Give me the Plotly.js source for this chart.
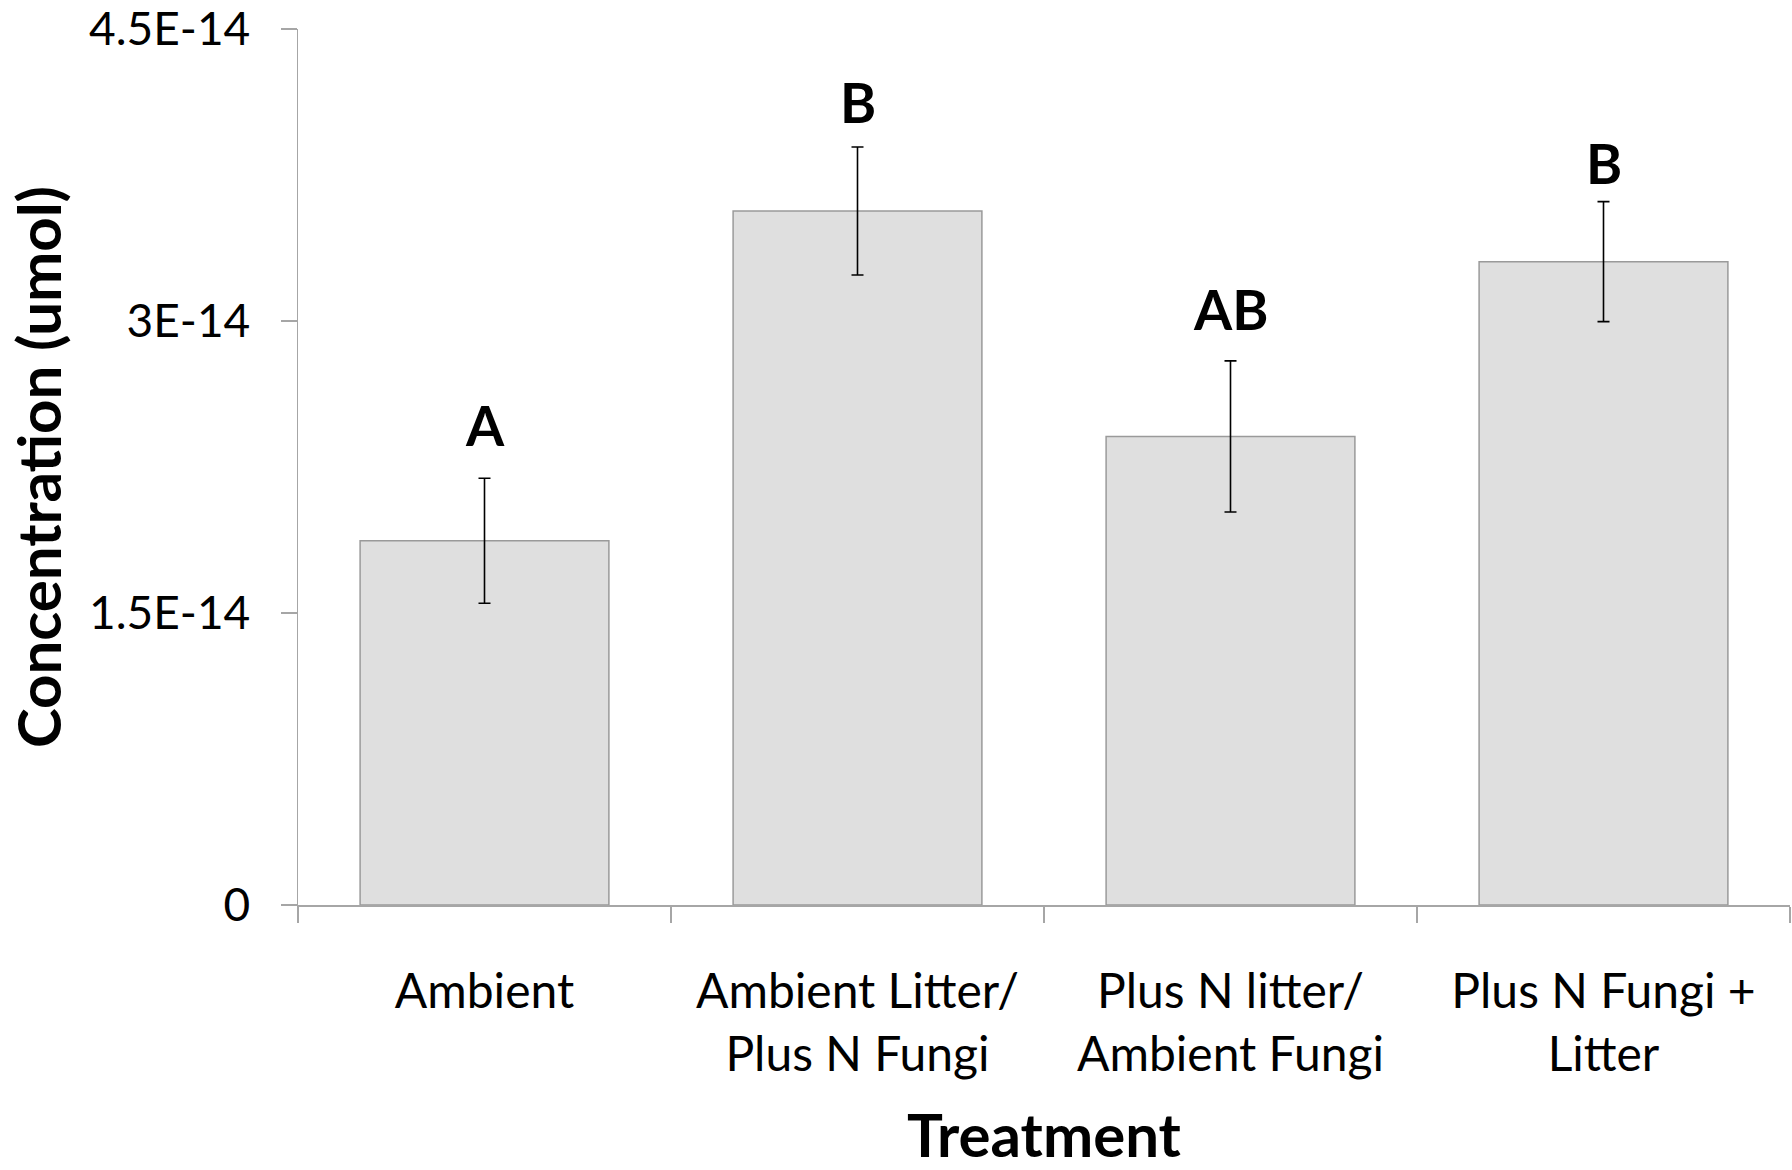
<!DOCTYPE html>
<html>
<head>
<meta charset="utf-8">
<script src="https://cdn.plot.ly/plotly-3.0.1.min.js"></script>
<style>html,body{margin:0;padding:0;background:#fff;}#chart{width:1792px;height:1170px;}</style>
</head>
<body>
<div id="chart"></div>
<script>
// Data
const categories = ["Ambient", "Ambient Litter/<br>Plus N Fungi", "Plus N litter/<br>Ambient Fungi", "Plus N Fungi +<br>Litter"];
const concentration = [1.871e-14, 3.565e-14, 2.407e-14, 3.305e-14];
const errorValues = [0.321e-14, 0.329e-14, 0.388e-14, 0.308e-14];
const groupLetters = ["A", "B", "AB", "B"];
const letterHeights = [2.468e-14, 4.123e-14, 3.062e-14, 3.814e-14];
const yTickVals = [0, 1.5e-14, 3e-14, 4.5e-14];
const yTickText = ["0", "1.5E-14", "3E-14", "4.5E-14"];
const yMax = 4.5e-14;

const FONT = "Lato, 'Open Sans', sans-serif";
const AXIS_GREY = "#a6a6a6";

const trace = {
  type: "bar",
  x: categories,
  y: concentration,
  marker: { color: "#dfdfdf", line: { color: "#9a9a9a", width: 1.5 } },
  error_y: { type: "data", array: errorValues, visible: true, color: "#000000", thickness: 1.6, width: 6 },
  hoverinfo: "x+y"
};

const annotations = categories.map((c, i) => ({
  x: c, y: letterHeights[i], xref: "x", yref: "y",
  text: "<b>" + groupLetters[i] + "</b>",
  showarrow: false, xanchor: "center", yanchor: "middle",
  font: { family: FONT, size: 55, color: "#000" }
}));

const layout = {
  width: 1792, height: 1170,
  margin: { l: 298, r: 2, t: 29, b: 265 },
  paper_bgcolor: "#ffffff", plot_bgcolor: "#ffffff",
  showlegend: false,
  bargap: 0.333,
  font: { family: FONT, color: "#000" },
  xaxis: {
    type: "category",
    range: [-0.5, 3.5],
    tickson: "boundaries",
    ticks: "outside", ticklen: 16, tickwidth: 1.5, tickcolor: AXIS_GREY,
    showline: true, linecolor: AXIS_GREY, linewidth: 1.5,
    showgrid: false, zeroline: false,
    tickfont: { family: FONT, size: 48, color: "#000" },
    ticklabelstandoff: 44,
    title: { text: "<b>Treatment</b>", font: { family: FONT, size: 60, color: "#000" }, standoff: 54 }
  },
  yaxis: {
    range: [0, yMax],
    tickmode: "array", tickvals: yTickVals, ticktext: yTickText,
    ticklabeloverflow: "allow",
    ticks: "outside", ticklen: 16, tickwidth: 1.5, tickcolor: AXIS_GREY,
    showline: true, linecolor: AXIS_GREY, linewidth: 1.5,
    showgrid: false, zeroline: false,
    tickfont: { family: FONT, size: 46, color: "#000" },
    ticklabelstandoff: 21,
    title: { text: "<b>Concentration (umol)</b>", font: { family: FONT, size: 60, color: "#000" }, standoff: 8 }
  },
  annotations: annotations
};

Plotly.newPlot("chart", [trace], layout, { displayModeBar: false, staticPlot: true });
</script>
</body>
</html>
